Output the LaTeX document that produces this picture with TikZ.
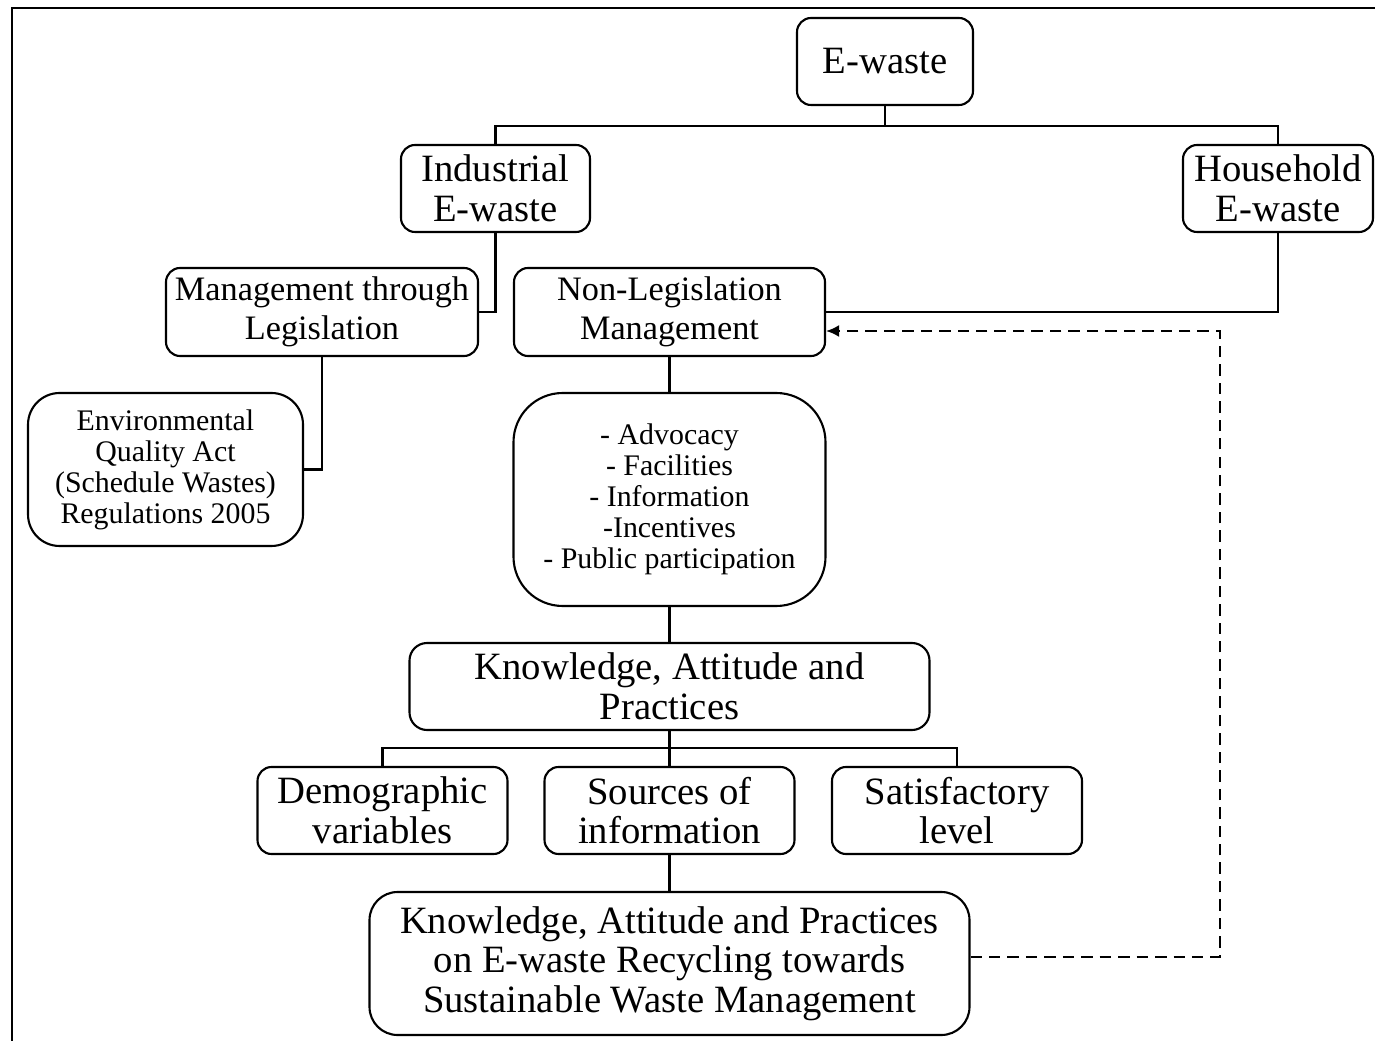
\documentclass[tikz,border=0pt]{standalone}
\usepackage{fontspec}
\setmainfont{Liberation Serif}
\usepackage{tikz}
\usetikzlibrary{positioning,arrows.meta}

\begin{document}
\begin{tikzpicture}[node distance=2cm,on grid,
    ebox/.style={draw,line width=1.2pt,rounded corners=8pt,align=center,inner sep=0pt,
      font=\fontsize{22}{22.5}\selectfont},
    mbox/.style={ebox,font=\fontsize{19.5}{22.5}\selectfont},
    sbox/.style={ebox,font=\fontsize{17}{17.6}\selectfont},
    link/.style={line width=1.2pt}]
   \useasboundingbox (0,0) rectangle (27.5,-20.82);
   \draw[line width=0.8pt] (27.5,-0.16) -- (0.24,-0.16) -- (0.24,-20.82);

   \node[ebox,minimum width=3.52cm,minimum height=1.74cm] (ew) at (17.70,-1.23) {E-waste};
   \node[ebox,minimum width=3.78cm,minimum height=1.74cm] (ind) [below left=2.54cm and 7.79cm of ew] {Industrial\\E-waste};
   \node[ebox,minimum width=3.80cm,minimum height=1.74cm] (hh) [below right=2.54cm and 7.86cm of ew] {Household\\E-waste};
   \node[mbox,minimum width=6.24cm,minimum height=1.76cm] (leg) [below left=2.47cm and 3.47cm of ind] {Management through\\Legislation};
   \node[mbox,minimum width=6.22cm,minimum height=1.76cm] (nonleg) [right=6.95cm of leg] {Non-Legislation\\Management};
   \node[sbox,rounded corners=18pt,minimum width=5.50cm,minimum height=3.06cm] (env) [below left=3.15cm and 3.13cm of leg]
      {Environmental\\Quality Act\\(Schedule Wastes)\\Regulations 2005};
   \node[sbox,rounded corners=28pt,minimum width=6.24cm,minimum height=4.26cm] (adv) [below=3.75cm of nonleg]
      {- Advocacy\\- Facilities\\- Information\\-Incentives\\- Public participation};
   \node[ebox,rounded corners=10pt,minimum width=10.40cm,minimum height=1.74cm] (kap) [below=3.74cm of adv] {Knowledge, Attitude and\\Practices};
   \node[ebox,minimum width=5.00cm,minimum height=1.74cm] (src) [below=2.48cm of kap] {Sources of\\information};
   \node[ebox,minimum width=5.00cm,minimum height=1.74cm] (demo) [left=5.74cm of src] {Demographic\\variables};
   \node[ebox,minimum width=5.00cm,minimum height=1.74cm] (sat) [right=5.75cm of src] {Satisfactory\\level};
   \node[ebox,rounded corners=16pt,minimum width=12.00cm,minimum height=2.86cm] (res) [below=3.06cm of src]
      {Knowledge, Attitude and Practices\\on E-waste Recycling towards\\Sustainable Waste Management};

   % tree lines
   \draw[link] (ew.south) -- ++(0,-0.4) -| (ind.north);
   \draw[link] (ew.south) -- ++(0,-0.4) -| (hh.north);
   \draw[link] (ind.south) |- (leg.east);
   \draw[link] (hh.south) |- (nonleg.east);
   \draw[link] (leg.south) |- (env.east);
   \draw[link] (nonleg) -- (adv);
   \draw[link] (adv) -- (kap);
   \draw[link] (kap.south) -- ++(0,-0.34) -| (demo.north);
   \draw[link] (kap.south) -- ++(0,-0.34) -| (sat.north);
   \draw[link] (kap) -- (src);
   \draw[link] (src) -- (res);
   % feedback
   \draw[link,-{Latex[length=2.6mm,width=2.4mm]},dash pattern=on 6.5pt off 4pt] ([yshift=0.13cm]res.east) -- ++(4.98,0) |- ([yshift=-0.38cm]nonleg.east);
\end{tikzpicture}
\end{document}
